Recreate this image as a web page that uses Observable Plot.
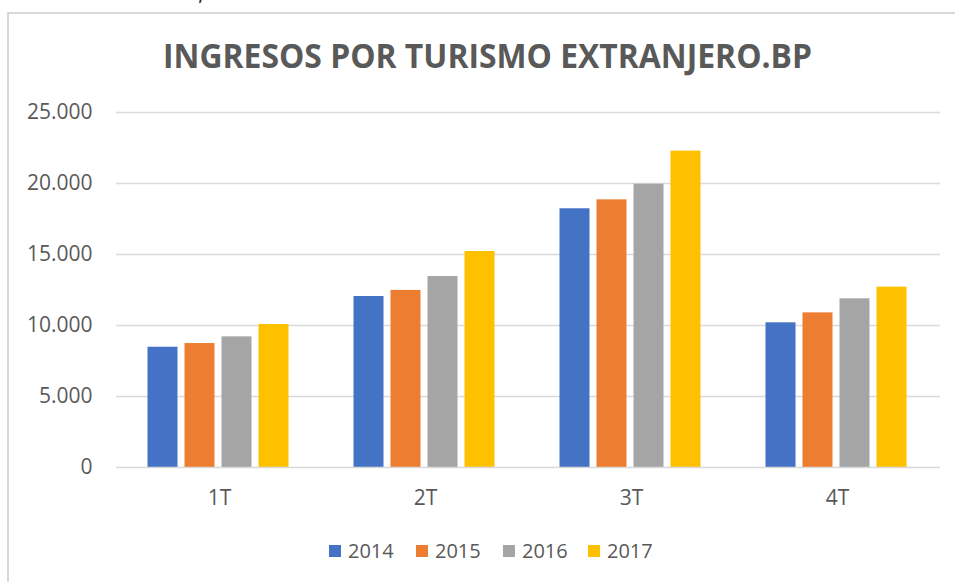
<!DOCTYPE html>
<html><head><meta charset="utf-8">
<script src="https://cdn.jsdelivr.net/npm/d3@7"></script>
<script src="https://cdn.jsdelivr.net/npm/@observablehq/plot@0.6"></script>
<style>
body{margin:0;background:#fff;}
#wrap{position:relative;width:955px;height:582px;overflow:hidden;background:#fff;font-family:"Open Sans",sans-serif;}
#frame{position:absolute;left:7px;top:12px;width:1000px;height:700px;border-left:2px solid #d9d9d9;border-top:2px solid #d9d9d9;}
#chart{position:absolute;left:0;top:0;}
#overlay{position:absolute;left:0;top:0;}
</style></head><body>
<div id="wrap"><div id="frame"></div><div id="chart"></div><svg id="overlay" width="955" height="582"></svg></div>
<script>
const quarters = ["1T","2T","3T","4T"];
const years = ["2014","2015","2016","2017"];
const v2014 = [8470, 12040, 18220, 10190];
const v2015 = [8730, 12470, 18850, 10890];
const v2016 = [9200, 13450, 19950, 11880];
const v2017 = [10070, 15210, 22280, 12700];
const colors = ["#4472c4","#ed7d31","#a5a5a5","#ffc000"];
const yTicks = [0, 5000, 10000, 15000, 20000, 25000];
const title = "INGRESOS POR TURISMO EXTRANJERO.BP";

const series = [v2014, v2015, v2016, v2017];
const data = [];
quarters.forEach((q, i) => years.forEach((y, j) => data.push({q, year: y, value: series[j][i]})));

const locale = d3.formatLocale({decimal: ",", thousands: ".", grouping: [3], currency: ["", ""]});
const fmt = locale.format(",d");

const chart = Plot.plot({
  width: 955, height: 582,
  marginLeft: 115, marginRight: 15, marginTop: 112, marginBottom: 115,
  style: {background: "transparent", fontFamily: "Open Sans", fontSize: "21px", color: "#595959", overflow: "visible"},
  fx: {domain: quarters, padding: 0, label: null, axis: "bottom", tickSize: 0, tickPadding: 23},
  x: {domain: years, paddingInner: 0.2, paddingOuter: 0.87, axis: null},
  y: {domain: [0, 25000], ticks: yTicks, tickFormat: fmt, tickSize: 0, tickPadding: 24, label: null},
  color: {domain: years, range: colors},
  marks: [
    Plot.gridY(yTicks.slice(1), {stroke: "#d9d9d9", strokeOpacity: 1, strokeWidth: 1.5}),
    Plot.barY(data, {fx: "q", x: "year", y: "value", fill: "year", dx: -1.5}),
    Plot.ruleY([0], {stroke: "#d9d9d9", strokeWidth: 1.5})
  ]
});
document.getElementById("chart").appendChild(chart);

const ov = d3.select("#overlay");
ov.append("text").attr("x", 198).attr("y", 0).attr("font-family", "Open Sans").attr("font-size", 24).attr("fill", "#333").text(",");
const t = ov.append("text").attr("x", 163).attr("y", 68.3)
  .attr("font-family", "Open Sans").attr("font-weight", "bold").attr("font-size", 33.6)
  .attr("fill", "#595959").text(title);
t.attr("textLength", 649).attr("lengthAdjust", "spacingAndGlyphs");

const legX = [329, 416, 503, 588];
years.forEach((y, i) => {
  ov.append("rect").attr("x", legX[i]).attr("y", 545).attr("width", 12).attr("height", 12).attr("fill", colors[i]);
  ov.append("text").attr("x", legX[i] + 19).attr("y", 558)
    .attr("font-family", "Open Sans").attr("font-size", 20).attr("fill", "#595959").text(y);
});
</script>
</body></html>
